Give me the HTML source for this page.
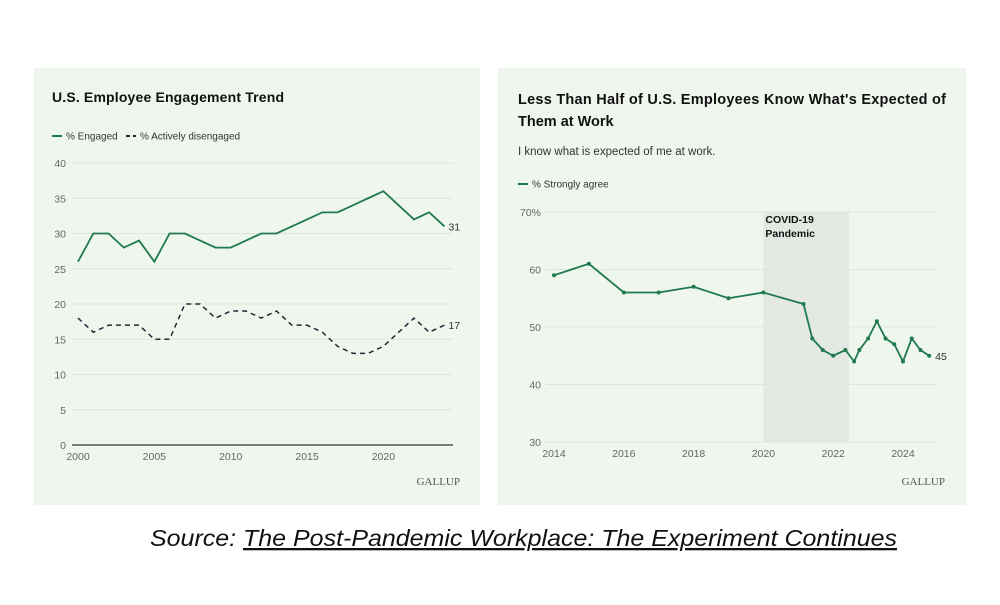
<!DOCTYPE html>
<html><head><meta charset="utf-8"><style>
body{margin:0;width:1000px;height:600px;background:#fff;overflow:hidden;font-family:"Liberation Sans",sans-serif}
svg text{font-family:"Liberation Sans",sans-serif}
</style></head><body>
<svg id="s" width="1000" height="600" xmlns="http://www.w3.org/2000/svg">
<rect x="34" y="68" width="446" height="437" fill="#eff6ee"/>
<rect x="498" y="68" width="468" height="437" fill="#eff6ee"/>
<text x="52" y="102" font-size="14" font-weight="bold" fill="#111" textLength="232">U.S. Employee Engagement Trend</text>
<g>
<line x1="52" y1="136" x2="62" y2="136" stroke="#1f7a4d" stroke-width="2"/>
<text x="66" y="139.5" font-size="10" fill="#333">% Engaged</text>
<line x1="126" y1="136" x2="136" y2="136" stroke="#222" stroke-width="2" stroke-dasharray="4,3"/>
<text x="140" y="139.5" font-size="10" fill="#333">% Actively disengaged</text>
</g>
<text x="518" y="104" font-size="14.5" font-weight="bold" fill="#111" textLength="428">Less Than Half of U.S. Employees Know What's Expected of</text>
<text x="518" y="126" font-size="14.5" font-weight="bold" fill="#111">Them at Work</text>
<text x="518" y="155" font-size="11.5" fill="#333">I know what is expected of me at work.</text>
<g>
<line x1="518" y1="184" x2="528" y2="184" stroke="#1f7a4d" stroke-width="2"/>
<text x="532" y="187.5" font-size="10" fill="#333">% Strongly agree</text>
</g>
<g id="L"></g><g id="R"></g>
<text x="460" y="485" text-anchor="end" font-size="11" fill="#555" style="font-family:'Liberation Serif',serif">GALLUP</text>
<text x="945" y="485" text-anchor="end" font-size="11" fill="#555" style="font-family:'Liberation Serif',serif">GALLUP</text>
<text x="150" y="546" font-size="23" font-style="italic" fill="#111" textLength="747" lengthAdjust="spacingAndGlyphs">Source: <tspan text-decoration="underline">The Post-Pandemic Workplace: The Experiment Continues</tspan></text>
</svg>
<script>
const leftYears=[2000,2001,2002,2003,2004,2005,2006,2007,2008,2009,2010,2011,2012,2013,2014,2015,2016,2017,2018,2019,2020,2021,2022,2023,2024];
const engaged=[26,30,30,28,29,26,30,30,29,28,28,29,30,30,31,32,33,33,34,35,36,34,32,33,31];
const disengaged=[18,16,17,17,17,15,15,20,20,18,19,19,18,19,17,17,16,14,13,13,14,16,18,16,17];
const leftYTicks=[0,5,10,15,20,25,30,35,40];
const leftXTicks=[2000,2005,2010,2015,2020];
const rightTimes=[2014,2015,2016,2017,2018,2019,2020,2021.15,2021.4,2021.7,2022,2022.35,2022.6,2022.75,2023,2023.25,2023.5,2023.75,2024,2024.25,2024.5,2024.75];
const agree=[59,61,56,56,57,55,56,54,48,46,45,46,44,46,48,51,48,47,44,48,46,45];
const rightYTicks=[30,40,50,60,70];
const rightXTicks=[2014,2016,2018,2020,2022,2024];
const pandemic=[2020,2022.45];
const NS="http://www.w3.org/2000/svg";
function mk(p,t,a){const e=document.createElementNS(NS,t);for(const k in a)e.setAttribute(k,a[k]);p.appendChild(e);return e;}
const L=document.getElementById('L'),R=document.getElementById('R');
const lx=v=>78+(v-2000)*15.27, ly=v=>445-v*(282/40);
leftYTicks.forEach(t=>{
 const g=mk(L,'line',{x1:72,x2:453,y1:ly(t),y2:ly(t),stroke:t==0?'#333':'#dde6dc','stroke-width':t==0?1.2:1});
 
 
 const tx=mk(L,'text',{x:66,y:ly(t)+4,'text-anchor':'end','font-size':10.5,fill:'#666'});tx.textContent=t;
 
 
});
leftXTicks.forEach(t=>{
 const tx=mk(L,'text',{x:lx(t),y:460,'text-anchor':'middle','font-size':10.5,fill:'#666'});tx.textContent=t;
 
 
});
let pe=mk(L,'polyline',{points:leftYears.map((y,i)=>lx(y)+','+ly(engaged[i])).join(' '),fill:'none',stroke:'#1f7a4d','stroke-width':1.8});


let pd=mk(L,'polyline',{points:leftYears.map((y,i)=>lx(y)+','+ly(disengaged[i])).join(' '),fill:'none',stroke:'#1e2a3a','stroke-width':1.5,'stroke-dasharray':'5,4'});


let n=leftYears.length-1;
let t1=mk(L,'text',{x:lx(leftYears[n])+4,y:ly(engaged[n])+4,'font-size':10.5,fill:'#333'});t1.textContent=engaged[n];


let t2=mk(L,'text',{x:lx(leftYears[n])+4,y:ly(disengaged[n])+4,'font-size':10.5,fill:'#333'});t2.textContent=disengaged[n];


const rx=v=>554+(v-2014)*34.9, ry=v=>442-(v-30)*(230/40);
let sh=mk(R,'rect',{x:rx(pandemic[0]),y:ry(70),width:rx(pandemic[1])-rx(pandemic[0]),height:ry(30)-ry(70),fill:'#e3e9e2'});


let sl=mk(R,'text',{x:rx(pandemic[0])+2,y:ry(70)+11,'font-size':10.5,'font-weight':'bold',fill:'#111'});sl.textContent='COVID-19';


let sl2=mk(R,'text',{x:rx(pandemic[0])+2,y:ry(70)+25,'font-size':10.5,'font-weight':'bold',fill:'#111'});sl2.textContent='Pandemic';


rightYTicks.forEach(t=>{
 const g=mk(R,'line',{x1:546,x2:937,y1:ry(t),y2:ry(t),stroke:'#dde6dc'});
 
 
 const tx=mk(R,'text',{x:541,y:ry(t)+4,'text-anchor':'end','font-size':10.5,fill:'#666'});tx.textContent=t==70?'70%':t;
 
 
});
rightXTicks.forEach(t=>{
 const tx=mk(R,'text',{x:rx(t),y:457,'text-anchor':'middle','font-size':10.5,fill:'#666'});tx.textContent=t;
 
 
});
let pa=mk(R,'polyline',{points:rightTimes.map((y,i)=>rx(y)+','+ry(agree[i])).join(' '),fill:'none',stroke:'#1f7a4d','stroke-width':1.8});


rightTimes.forEach((y,i)=>{
 const c=mk(R,'circle',{cx:rx(y),cy:ry(agree[i]),r:2,fill:'#1f7a4d'});
 
 
});
let m=rightTimes.length-1;
let t3=mk(R,'text',{x:rx(rightTimes[m])+6,y:ry(agree[m])+4,'font-size':10.5,fill:'#333'});t3.textContent=agree[m];


</script>
</body></html>
